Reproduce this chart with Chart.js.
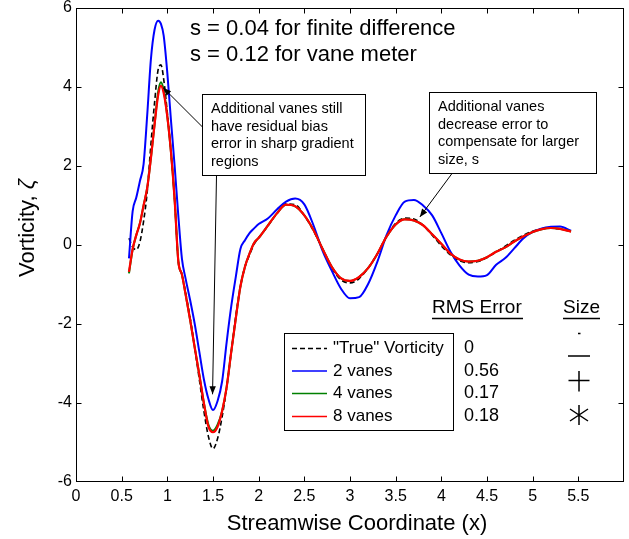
<!DOCTYPE html>
<html><head><meta charset="utf-8">
<script src="https://cdn.jsdelivr.net/npm/chart.js@4.4.1/dist/chart.umd.min.js"></script>
<style>html,body{margin:0;padding:0;background:#fff;overflow:hidden}</style>
</head><body>
<canvas id="c" width="629" height="539" style="display:block;width:629px;height:539px"></canvas>
<script>
const xs = [0.58,0.62,0.66,0.70,0.74,0.78,0.82,0.86,0.90,0.93,0.96,1.00,1.04,1.08,1.12,1.16,1.20,1.25,1.30,1.35,1.40,1.45,1.50,1.55,1.60,1.65,1.70,1.75,1.80,1.85,1.90,1.95,2.00,2.10,2.20,2.30,2.40,2.50,2.60,2.70,2.80,2.90,3.00,3.10,3.20,3.30,3.40,3.50,3.60,3.70,3.80,3.90,4.00,4.10,4.20,4.30,4.40,4.50,4.60,4.70,4.80,4.90,5.00,5.10,5.20,5.30,5.42];
const trueVorticity = [0.17,-0.05,-0.12,0.08,0.60,1.35,2.55,3.60,4.45,4.56,4.20,3.35,2.35,1.15,-0.40,-0.75,-1.20,-1.85,-2.60,-3.40,-4.20,-4.85,-5.16,-4.90,-4.35,-3.60,-2.70,-1.80,-1.05,-0.55,-0.25,0.02,0.18,0.48,0.80,1.04,1.02,0.75,0.36,-0.10,-0.58,-0.88,-0.96,-0.85,-0.58,-0.22,0.22,0.55,0.68,0.66,0.50,0.25,-0.02,-0.25,-0.40,-0.45,-0.42,-0.32,-0.18,-0.03,0.12,0.25,0.35,0.41,0.43,0.40,0.35];
const vanes2 = [-0.34,0.85,1.20,1.62,2.05,3.30,4.70,5.45,5.68,5.60,5.30,4.35,3.15,2.00,0.75,-0.35,-0.85,-1.40,-2.00,-2.70,-3.40,-3.90,-4.18,-3.95,-3.45,-2.45,-1.55,-0.80,-0.10,0.12,0.30,0.42,0.53,0.67,0.90,1.10,1.18,1.03,0.50,-0.15,-0.65,-1.10,-1.35,-1.32,-0.98,-0.42,0.25,0.75,1.10,1.14,1.00,0.75,0.30,-0.17,-0.52,-0.75,-0.80,-0.76,-0.50,-0.33,-0.08,0.17,0.33,0.42,0.46,0.47,0.36];
const vanes4 = [-0.72,-0.12,0.25,0.55,1.00,1.45,2.20,3.05,3.88,4.12,3.92,3.25,2.35,1.15,-0.40,-0.75,-1.25,-1.90,-2.60,-3.28,-4.00,-4.55,-4.70,-4.55,-4.20,-3.59,-2.70,-1.85,-1.05,-0.55,-0.22,0.05,0.18,0.49,0.80,1.02,0.98,0.75,0.38,-0.10,-0.55,-0.84,-0.91,-0.81,-0.58,-0.22,0.21,0.52,0.65,0.62,0.50,0.27,0.03,-0.22,-0.37,-0.42,-0.40,-0.31,-0.17,-0.06,0.09,0.22,0.33,0.40,0.43,0.41,0.34];
const vanes8 = [-0.68,-0.10,0.25,0.55,1.00,1.45,2.20,3.05,3.80,4.03,3.85,3.25,2.35,1.15,-0.40,-0.75,-1.25,-1.90,-2.60,-3.28,-4.00,-4.60,-4.74,-4.60,-4.20,-3.59,-2.70,-1.85,-1.05,-0.55,-0.22,0.05,0.18,0.49,0.80,1.02,0.98,0.75,0.38,-0.10,-0.55,-0.84,-0.91,-0.81,-0.58,-0.22,0.21,0.52,0.65,0.62,0.50,0.27,0.03,-0.22,-0.37,-0.42,-0.40,-0.31,-0.17,-0.06,0.09,0.22,0.33,0.40,0.43,0.41,0.34];
const seriesLabels = ['"True" Vorticity','2 vanes','4 vanes','8 vanes'];
const rmsErrors = ['0','0.56','0.17','0.18'];
const xTicks = [0,0.5,1,1.5,2,2.5,3,3.5,4,4.5,5,5.5,6];
const xTickLabels = ['0','0.5','1','1.5','2','2.5','3','3.5','4','4.5','5','5.5',''];
const yTicks = [-6,-4,-2,0,2,4,6];
const yTickLabels = ['-6','-4','-2','0','2','4','6'];

const FONT = '"Liberation Sans", Arial, Helvetica, sans-serif';
const pts = arr => xs.map((x, i) => ({x, y: arr[i]}));

function arrow(ctx, x1, y1, x2, y2) {
  ctx.beginPath(); ctx.moveTo(x1, y1); ctx.lineTo(x2, y2); ctx.stroke();
  const ang = Math.atan2(y2 - y1, x2 - x1), L = 8, W = 3.2;
  ctx.beginPath();
  ctx.moveTo(x2, y2);
  ctx.lineTo(x2 - L*Math.cos(ang) + W*Math.sin(ang), y2 - L*Math.sin(ang) - W*Math.cos(ang));
  ctx.lineTo(x2 - L*Math.cos(ang) - W*Math.sin(ang), y2 - L*Math.sin(ang) + W*Math.cos(ang));
  ctx.closePath(); ctx.fill();
}

const deco = {
  id: 'deco',
  afterDraw(chart) {
    const {ctx, chartArea: a, scales: {x, y}} = chart;
    const L = Math.round(a.left) + 0.5, R = Math.round(a.right) - 0.5;
    const T = Math.round(a.top) + 0.5, B = Math.round(a.bottom) - 0.5;
    ctx.save();
    ctx.strokeStyle = '#000'; ctx.fillStyle = '#000'; ctx.lineWidth = 1;
    ctx.strokeRect(L, T, R - L, B - T);
    ctx.beginPath();
    xTicks.forEach(v => {
      if (v <= xTicks[0] || v >= xTicks[xTicks.length-1]) return;
      const p = Math.round(x.getPixelForValue(v)) + 0.5;
      ctx.moveTo(p, B); ctx.lineTo(p, B - 5);
      ctx.moveTo(p, T); ctx.lineTo(p, T + 5);
    });
    yTicks.forEach(v => {
      if (v <= yTicks[0] || v >= yTicks[yTicks.length-1]) return;
      const p = Math.round(y.getPixelForValue(v)) + 0.5;
      ctx.moveTo(L, p); ctx.lineTo(L + 5, p);
      ctx.moveTo(R, p); ctx.lineTo(R - 5, p);
    });
    ctx.stroke();

    // axis titles
    ctx.textAlign = 'center'; ctx.textBaseline = 'middle';
    ctx.font = '22px ' + FONT;
    ctx.fillText('Streamwise Coordinate (x)', 357, 524);
    ctx.save();
    ctx.translate(28, 228); ctx.rotate(-Math.PI/2);
    const t1 = 'Vorticity, ', t2 = 'ζ';
    ctx.font = '22px ' + FONT;
    const w1 = ctx.measureText(t1).width;
    ctx.font = 'italic 22px ' + FONT;
    const w2 = ctx.measureText(t2).width;
    ctx.textAlign = 'left';
    ctx.font = '22px ' + FONT;
    ctx.fillText(t1, -(w1 + w2) / 2, 0);
    ctx.font = 'italic 22px ' + FONT;
    ctx.fillText(t2, -(w1 + w2) / 2 + w1, 0);
    ctx.restore();

    // top notes
    ctx.textAlign = 'left';
    ctx.font = '22px ' + FONT;
    ctx.fillText('s = 0.04 for finite difference', 190, 29);
    ctx.fillText('s = 0.12 for vane meter', 190, 55);

    // annotation boxes
    const boxes = [
      {x0: 202, y0: 94, x1: 365, y1: 175, tx: 211, ty: 109, lines: ['Additional vanes still','have residual bias','error in sharp gradient','regions']},
      {x0: 429, y0: 92, x1: 596, y1: 173, tx: 438, ty: 107, lines: ['Additional vanes','decrease error to','compensate for larger','size, s']}
    ];
    ctx.font = '14.5px ' + FONT;
    boxes.forEach(b => {
      ctx.fillStyle = '#fff';
      ctx.fillRect(b.x0 + 0.5, b.y0 + 0.5, b.x1 - b.x0, b.y1 - b.y0);
      ctx.strokeStyle = '#000';
      ctx.strokeRect(b.x0 + 0.5, b.y0 + 0.5, b.x1 - b.x0, b.y1 - b.y0);
      ctx.fillStyle = '#000';
      b.lines.forEach((t, i) => ctx.fillText(t, b.tx, b.ty + i*17.7));
    });
    // arrows (heads in data coordinates)
    arrow(ctx, 202.5, 127, x.getPixelForValue(0.955), y.getPixelForValue(3.98));
    arrow(ctx, 216.5, 175.5, x.getPixelForValue(1.495), y.getPixelForValue(-3.78));
    arrow(ctx, 452, 173.5, x.getPixelForValue(3.765), y.getPixelForValue(0.71));

    // legend
    const lg = {x0: 284, y0: 333, x1: 453, y1: 430};
    ctx.fillStyle = '#fff';
    ctx.fillRect(lg.x0 + 0.5, lg.y0 + 0.5, lg.x1 - lg.x0, lg.y1 - lg.y0);
    ctx.strokeStyle = '#000'; ctx.lineWidth = 1;
    ctx.strokeRect(lg.x0 + 0.5, lg.y0 + 0.5, lg.x1 - lg.x0, lg.y1 - lg.y0);
    const rowY = [348.5, 371, 393.5, 416.5];
    ctx.font = '17px ' + FONT;
    chart.data.datasets.forEach((ds, i) => {
      ctx.save();
      ctx.strokeStyle = ds.borderColor; ctx.lineWidth = 1.5;
      ctx.setLineDash(ds.borderDash || []);
      ctx.beginPath(); ctx.moveTo(292, rowY[i]); ctx.lineTo(327, rowY[i]); ctx.stroke();
      ctx.restore();
      ctx.fillStyle = '#000';
      ctx.fillText(ds.label, 333, rowY[i]);
    });
    ctx.font = '18px ' + FONT;
    rmsErrors.forEach((t, i) => ctx.fillText(t, 464, rowY[i]));
    // headers
    ctx.font = '19px ' + FONT;
    ctx.fillText('RMS Error', 432, 308);
    ctx.fillText('Size', 563, 308);
    ctx.lineWidth = 1.3;
    ctx.beginPath();
    ctx.moveTo(432, 318.5); ctx.lineTo(523, 318.5);
    ctx.moveTo(563, 318.5); ctx.lineTo(600, 318.5);
    ctx.stroke();
    // size symbols
    ctx.lineWidth = 1.5;
    ctx.beginPath();
    ctx.moveTo(578, 333.5); ctx.lineTo(580.5, 333.5);
    ctx.moveTo(568, 356); ctx.lineTo(590, 356);
    ctx.moveTo(568.5, 380.5); ctx.lineTo(589.5, 380.5);
    ctx.moveTo(579, 371); ctx.lineTo(579, 391.5);
    const cx = 579, cy = 415;
    ctx.moveTo(cx, cy - 10); ctx.lineTo(cx, cy + 10);
    ctx.moveTo(cx - 9, cy - 6); ctx.lineTo(cx + 9, cy + 6);
    ctx.moveTo(cx - 9, cy + 6); ctx.lineTo(cx + 9, cy - 6);
    ctx.stroke();
    ctx.restore();
  }
};

new Chart(document.getElementById('c'), {
  type: 'line',
  data: {
    datasets: [
      {label: seriesLabels[0], data: pts(trueVorticity), borderColor: '#000000', borderWidth: 1.6, borderDash: [5, 3], order: 4},
      {label: seriesLabels[1], data: pts(vanes2), borderColor: '#0000ff', borderWidth: 2, order: 3},
      {label: seriesLabels[2], data: pts(vanes4), borderColor: '#008000', borderWidth: 2, order: 2},
      {label: seriesLabels[3], data: pts(vanes8), borderColor: '#ff0000', borderWidth: 2.2, order: 1}
    ]
  },
  options: {
    responsive: false,
    animation: false,
    devicePixelRatio: 1,
    layout: {padding: {top: 8, right: 5, left: 0, bottom: 0}},
    elements: {point: {radius: 0}, line: {cubicInterpolationMode: 'monotone', fill: false}},
    plugins: {legend: {display: false}, tooltip: {enabled: false}},
    scales: {
      x: {
        type: 'linear', min: 0, max: 6,
        grid: {display: false, drawTicks: false},
        border: {display: false},
        afterBuildTicks: s => { s.ticks = xTicks.map(v => ({value: v})); },
        afterFit: s => { s.height = 57; s.paddingLeft = 0; s.paddingRight = 0; },
        ticks: {color: '#000', padding: 5, maxRotation: 0, autoSkip: false,
          font: {family: FONT, size: 16},
          callback: (v) => { const i = xTicks.indexOf(v); return i >= 0 ? xTickLabels[i] : ''; }}
      },
      y: {
        type: 'linear', min: -6, max: 6,
        grid: {display: false, drawTicks: false},
        border: {display: false},
        afterBuildTicks: s => { s.ticks = yTicks.map(v => ({value: v})); },
        afterFit: s => { s.width = 76; s.paddingTop = 0; s.paddingBottom = 0; },
        ticks: {color: '#000', padding: 4, autoSkip: false,
          font: {family: FONT, size: 16},
          callback: (v) => { const i = yTicks.indexOf(v); return i >= 0 ? yTickLabels[i] : ''; }}
      }
    }
  },
  plugins: [deco]
});
</script>
</body></html>
